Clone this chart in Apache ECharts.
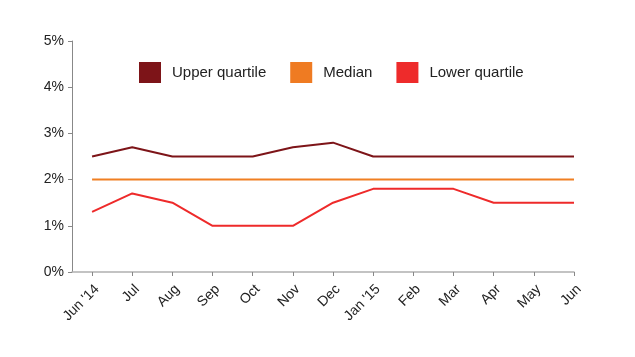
<!DOCTYPE html>
<html><head><meta charset="utf-8">
<script src="https://cdn.jsdelivr.net/npm/echarts@6/dist/echarts.min.js"></script>
<style>html,body{margin:0;padding:0;background:#fff}#c{width:635px;height:357px}</style>
</head><body><div id="c"></div>
<script>
const categories = ["Jun '14","Jul","Aug","Sep","Oct","Nov","Dec","Jan '15","Feb","Mar","Apr","May","Jun"];
const upperQuartile = [2.5,2.7,2.5,2.5,2.5,2.7,2.8,2.5,2.5,2.5,2.5,2.5,2.5];
const median = [2.0,2.0,2.0,2.0,2.0,2.0,2.0,2.0,2.0,2.0,2.0,2.0,2.0];
const lowerQuartile = [1.3,1.7,1.5,1.0,1.0,1.0,1.5,1.8,1.8,1.8,1.5,1.5,1.5];
const yTicks = [0,1,2,3,4,5];

const font = "Liberation Sans, Arial, Helvetica, sans-serif";
const idx = categories.map((_, i) => i);
const toPts = arr => arr.map((v, i) => [i, v]);

const chart = echarts.init(document.getElementById('c'), null, {renderer: 'canvas'});
chart.setOption({
  animation: false,
  backgroundColor: '#fff',
  grid: {left: 72, right: 61, top: 41, bottom: 85, containLabel: false},
  legend: {
    left: 139, top: 62, padding: 0,
    itemWidth: 22, itemHeight: 21, itemGap: 24,
    icon: 'rect',
    textStyle: {fontFamily: font, fontSize: 15, color: '#222', padding: [0, 0, 0, 6]},
    data: ['Upper quartile', 'Median', 'Lower quartile']
  },
  xAxis: {
    type: 'value', min: -0.5, max: categories.length - 1,
    splitLine: {show: false},
    axisLine: {show: true, onZero: false, lineStyle: {color: '#b0b0b0', width: 1.5}},
    axisTick: {show: true, customValues: idx, length: 4, lineStyle: {color: '#888'}},
    axisLabel: {
      customValues: idx, rotate: 45, margin: 10, verticalAlign: 'top',
      fontFamily: font, fontSize: 14, color: '#222',
      formatter: v => categories[Math.round(v)]
    }
  },
  yAxis: {
    type: 'value', min: 0, max: 5, interval: 1,
    splitLine: {show: false},
    axisLine: {show: true, onZero: false, lineStyle: {color: '#888'}},
    axisTick: {show: true, length: 4, lineStyle: {color: '#888'}},
    axisLabel: {fontFamily: font, fontSize: 14, color: '#222', margin: 8,
      formatter: v => yTicks.includes(v) ? v + '%' : ''}
  },
  series: [
    {name: 'Upper quartile', type: 'line', data: toPts(upperQuartile), symbol: 'none',
      color: '#7d1418', lineStyle: {width: 2, color: '#7d1418'}},
    {name: 'Median', type: 'line', data: toPts(median), symbol: 'none',
      color: '#ef7b22', lineStyle: {width: 2, color: '#f07f22'}},
    {name: 'Lower quartile', type: 'line', data: toPts(lowerQuartile), symbol: 'none',
      color: '#ee2b2b', lineStyle: {width: 2, color: '#ee2a2a'}}
  ]
});
</script></body></html>
